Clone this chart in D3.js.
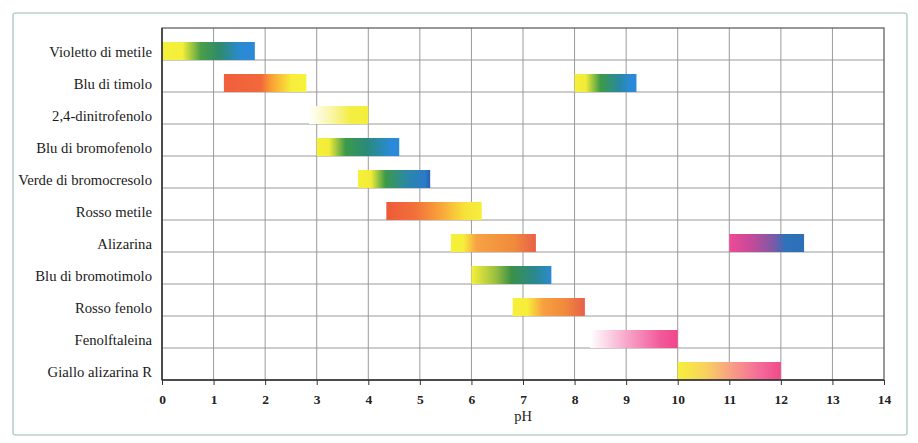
<!DOCTYPE html>
<html><head><meta charset="utf-8">
<script src="https://cdn.jsdelivr.net/npm/d3@7"></script>
<style>html,body{margin:0;padding:0;background:#fff;}svg{display:block;}</style>
</head><body>
<svg id="chart" width="918" height="443"></svg>
<script>
const indicators = ["Violetto di metile","Blu di timolo","2,4-dinitrofenolo","Blu di bromofenolo","Verde di bromocresolo","Rosso metile","Alizarina","Blu di bromotimolo","Rosso fenolo","Fenolftaleina","Giallo alizarina R"];
// colour-change ranges: [indicator, start pH, end pH]
const ranges = [
  ["Violetto di metile",0.0,1.8],
  ["Blu di timolo",1.2,2.8],
  ["Blu di timolo",8.0,9.2],
  ["2,4-dinitrofenolo",2.85,4.0],
  ["Blu di bromofenolo",3.0,4.6],
  ["Verde di bromocresolo",3.8,5.2],
  ["Rosso metile",4.35,6.2],
  ["Alizarina",5.6,7.25],
  ["Alizarina",11.0,12.45],
  ["Blu di bromotimolo",6.0,7.55],
  ["Rosso fenolo",6.8,8.2],
  ["Fenolftaleina",8.3,10.0],
  ["Giallo alizarina R",10.0,12.0]
];
// indicator colours along each range (offset, colour)
const rangeColors = [
  [[0,"#f6f13a"],[0.22,"#f3ef3a"],[0.42,"#4a9e48"],[0.62,"#2e8a6c"],[0.85,"#2a8ad4"],[1,"#2a8ad8"]],
  [[0,"#f0603c"],[0.45,"#f2683a"],[0.58,"#f9a234"],[0.82,"#f7ee3a"],[1,"#f6f23c"]],
  [[0,"#f6f03a"],[0.18,"#f2ec38"],[0.42,"#3c9a48"],[0.72,"#2a88a0"],[0.9,"#2a8ad8"],[1,"#2a8ad8"]],
  [[0,"#ffffff"],[0.35,"#faf6b0"],[0.7,"#f4ee44"],[1,"#f4ee3a"]],
  [[0,"#f6f03a"],[0.15,"#f2ec38"],[0.35,"#3c9a48"],[0.6,"#2a8a78"],[0.9,"#2a8ad8"],[1,"#2a88d8"]],
  [[0,"#f6f03a"],[0.18,"#f2ec38"],[0.38,"#3c9a48"],[0.68,"#2a88a8"],[0.93,"#2a7ac8"],[1,"#2a5eb0"]],
  [[0,"#ee5a3a"],[0.3,"#f2703a"],[0.55,"#f8a03a"],[0.82,"#f7e23a"],[1,"#f6ee3a"]],
  [[0,"#f6f03a"],[0.15,"#f6ee3a"],[0.3,"#f7a244"],[0.75,"#f08a3c"],[1,"#e8604a"]],
  [[0,"#ee4a96"],[0.3,"#c44a98"],[0.6,"#7a5aa8"],[0.75,"#2e72b8"],[1,"#2e70b8"]],
  [[0,"#f6f03a"],[0.3,"#9ac040"],[0.5,"#3c9048"],[0.8,"#2a8890"],[1,"#2a8ad0"]],
  [[0,"#f6f03a"],[0.2,"#f6ee3a"],[0.42,"#f8a040"],[0.72,"#f08a3c"],[1,"#e8604a"]],
  [[0,"#ffffff"],[0.4,"#f8aacc"],[0.8,"#f25a9a"],[1,"#f0468c"]],
  [[0,"#f6f03a"],[0.28,"#f8d060"],[0.5,"#f8a284"],[0.8,"#f46a9a"],[1,"#f04a8a"]]
];
const phTicks = d3.range(0,15);
const axisTitle = "pH";

const svg = d3.select("#chart");
const M = {left:162, right:884, top:28, bottom:380};
const x = d3.scaleLinear().domain([0,14]).range([M.left, M.right]);
const y = d3.scaleBand().domain(indicators).range([M.top, M.bottom]).padding(0);
const bw = y.bandwidth();

// outer frame
svg.append("rect").attr("x",13).attr("y",13).attr("width",894).attr("height",422)
  .attr("rx",3).attr("fill","#fff").attr("stroke","#b9d2cb").attr("stroke-width",1.6);

const defs = svg.append("defs");
ranges.forEach((r,i)=>{
  const g = defs.append("linearGradient").attr("id","g"+i)
    .attr("x1","0%").attr("x2","100%").attr("y1","0%").attr("y2","0%");
  rangeColors[i].forEach(s=>g.append("stop").attr("offset",s[0]).attr("stop-color",s[1]));
});

// grid
const grid = svg.append("g");
grid.selectAll("line.v").data(phTicks.slice(1,-1)).join("line")
  .attr("x1",d=>x(d)).attr("x2",d=>x(d)).attr("y1",M.top).attr("y2",M.bottom)
  .attr("stroke","#9a9a9a").attr("stroke-width",1);
grid.selectAll("line.h").data(indicators.slice(1)).join("line")
  .attr("x1",M.left).attr("x2",M.right).attr("y1",d=>y(d)).attr("y2",d=>y(d))
  .attr("stroke","#9a9a9a").attr("stroke-width",1);

// bars
svg.append("g").selectAll("rect").data(ranges).join("rect")
  .attr("x",d=>x(d[1])).attr("width",d=>x(d[2])-x(d[1]))
  .attr("y",d=>y(d[0])+14).attr("height",18)
  .attr("fill",(d,i)=>"url(#g"+i+")");

// plot border
svg.append("rect").attr("x",M.left).attr("y",M.top).attr("width",M.right-M.left).attr("height",M.bottom-M.top)
  .attr("fill","none").attr("stroke","#555").attr("stroke-width",1.2);
svg.append("line").attr("x1",M.left).attr("x2",M.right).attr("y1",M.bottom).attr("y2",M.bottom)
  .attr("stroke","#333").attr("stroke-width",1.5);
svg.append("line").attr("x1",M.left).attr("x2",M.left).attr("y1",M.top).attr("y2",M.bottom)
  .attr("stroke","#333").attr("stroke-width",1.5);

// x axis
const xAxis = d3.axisBottom(x).tickValues(phTicks).tickSize(5).tickPadding(9).tickFormat(d3.format("d"));
const ax = svg.append("g").attr("transform",`translate(0,${M.bottom})`).call(xAxis);
ax.select(".domain").remove();
ax.selectAll(".tick line").attr("stroke","#333");
ax.selectAll(".tick text").attr("font-family","'Liberation Serif','DejaVu Serif',serif")
  .attr("font-size",13.5).attr("font-weight","bold").attr("fill","#222");
svg.append("text").attr("x",x(7)).attr("y",421).attr("text-anchor","middle")
  .attr("font-family","'Liberation Serif','DejaVu Serif',serif").attr("font-size",14.5).attr("fill","#222")
  .text(axisTitle);

// labels
svg.append("g").selectAll("text").data(indicators).join("text")
  .attr("x",152).attr("y",d=>y(d)+bw*0.75).attr("dy","0.35em").attr("text-anchor","end")
  .attr("font-family","'Liberation Serif','DejaVu Serif',serif").attr("font-size",14.7).attr("fill","#1a1a1a")
  .text(d=>d);
</script>
</body></html>
